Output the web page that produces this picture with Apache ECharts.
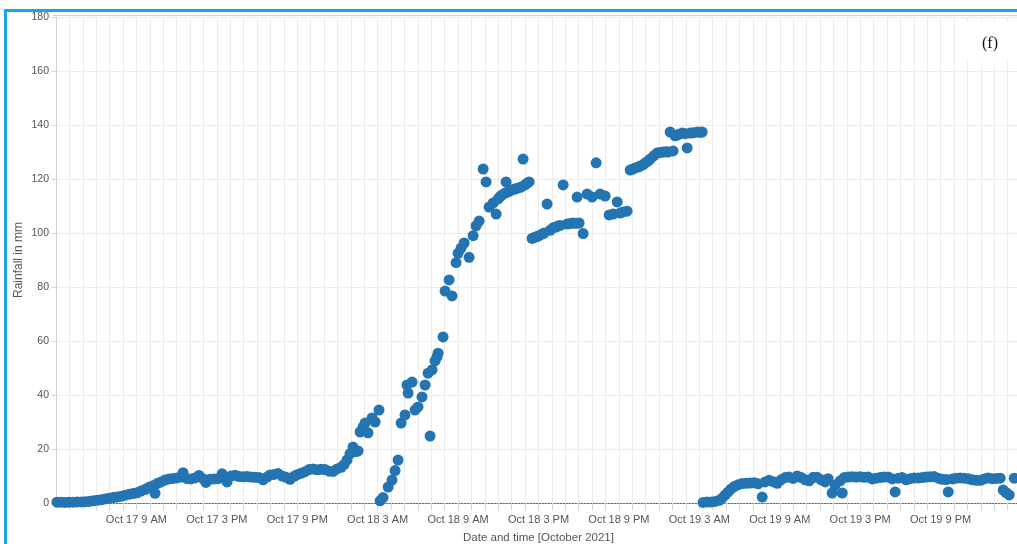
<!DOCTYPE html>
<html>
<head>
<meta charset="utf-8">
<title>Rainfall in mm, 17–19 October 2021</title>
<script src="https://cdn.jsdelivr.net/npm/echarts@6/dist/echarts.min.js"></script>
<style>
  html, body { margin: 0; padding: 0; background: #fff; }
  #frame {
    position: absolute; left: 4px; top: 9px; width: 1100px; height: 600px;
    border: 3px solid #19a5e8; box-sizing: border-box;
  }
  #chart { position: absolute; left: 0; top: 0; width: 1017px; height: 544px; }
</style>
</head>
<body>
<div id="frame"></div>
<div id="chart"></div>
<script>
// Logger readings: hours counted from 17 Oct 2021 00:00, cumulative rainfall in mm
const hours = [
  // run 1 (17 Oct 03:00 → 18 Oct 03:00)
  3.07, 3.37, 3.67, 3.97, 4.27, 4.57, 4.87, 5.16, 5.46, 5.76,
  6.06, 6.36, 6.66, 6.96, 7.25, 7.55, 7.85, 8.15, 8.45, 8.75,
  9.04, 9.34, 9.64, 9.94, 10.24, 10.39, 10.54, 10.84, 11.13, 11.43,
  11.73, 12.03, 12.33, 12.48, 12.78, 13.07, 13.37, 13.67, 13.97, 14.19,
  14.49, 14.79, 15.09, 15.39, 15.54, 15.76, 16.06, 16.36, 16.66, 16.96,
  17.25, 17.55, 17.85, 18.15, 18.45, 18.75, 18.97, 19.27, 19.57, 19.87,
  20.16, 20.46, 20.76, 20.99, 21.28, 21.58, 21.88, 22.18, 22.48, 22.78,
  23.07, 23.37, 23.67, 23.97, 24.27, 24.49, 24.72, 24.94, 25.16, 25.39,
  25.54, 25.69, 25.91, 26.06, 26.28, 26.58, 26.81, 27.10,
  // run 2 (18 Oct 03:00 → 19 Oct 03:00)
  27.18, 27.40, 27.78, 28.07, 28.30, 28.52, 28.75, 29.04, 29.19, 29.27,
  29.57, 29.79, 30.01, 30.31, 30.54, 30.76, 30.91, 31.06, 31.28, 31.43,
  31.51, 31.88, 32.03, 32.33, 32.55, 32.85, 33.00, 33.22, 33.45, 33.82,
  34.12, 34.34, 34.57, 34.87, 35.09, 35.31, 35.61, 35.84, 35.99, 36.13,
  36.28, 36.51, 36.58, 36.73, 36.88, 37.03, 37.25, 37.48, 37.70, 37.85,
  38.00, 38.15, 38.30, 38.52, 38.67, 38.90, 39.04, 39.27, 39.42, 39.64,
  39.87, 40.09, 40.31, 40.46, 40.61, 40.84, 41.13, 41.36, 41.58, 41.81,
  41.88, 42.03, 42.33, 42.63, 43.00, 43.30, 43.60, 43.97, 44.27, 44.57,
  44.87, 45.09, 45.31, 45.61, 45.84, 45.99, 46.21, 46.43, 46.58, 46.81,
  46.96, 47.18, 47.33, 47.60, 47.85, 48.07, 48.30, 48.52, 48.67, 48.82,
  49.04, 49.19, 49.34, 49.49, 49.72, 49.94, 50.09, 50.31, 50.54, 50.84,
  51.06, 51.21,
  // run 3 (19 Oct 03:00 onward)
  51.28, 51.58, 51.88, 52.18, 52.48, 52.70, 52.93, 53.15, 53.37, 53.60,
  53.90, 54.19, 54.49, 54.79, 55.09, 55.39, 55.69, 55.91, 56.21, 56.51,
  56.81, 57.10, 57.40, 57.70, 58.00, 58.30, 58.60, 58.90, 59.19, 59.49,
  59.79, 60.09, 60.39, 60.61, 60.91, 61.13, 61.51, 61.66, 61.81, 62.10,
  62.40, 62.70, 63.00, 63.30, 63.60, 63.90, 64.19, 64.49, 64.79, 65.09,
  65.39, 65.61, 65.84, 66.13, 66.43, 66.73, 67.03, 67.33, 67.63, 67.93,
  68.22, 68.52, 68.82, 69.12, 69.42, 69.57, 69.87, 70.16, 70.46, 70.76,
  71.06, 71.36, 71.66, 71.96, 72.25, 72.55, 72.85, 73.15, 73.45, 73.67,
  73.90, 74.12, 74.49
];

const rainfallMm = [
  // run 1
  0.3, 0.3, 0.2, 0.3, 0.3, 0.4, 0.4, 0.5, 0.6, 0.8,
  1.0, 1.2, 1.5, 1.8, 2.0, 2.2, 2.5, 2.9, 3.2, 3.5,
  3.8, 4.4, 5.0, 5.8, 6.4, 3.6, 7.2, 7.8, 8.5, 8.9,
  9.1, 9.3, 9.6, 11.2, 9.0, 8.9, 9.3, 10.2, 9.0, 7.6,
  8.8, 8.9, 9.0, 10.8, 9.5, 7.8, 10.0, 10.3, 9.8, 9.7,
  9.8, 9.6, 9.5, 9.4, 8.6, 9.6, 10.4, 10.6, 10.9, 10.0,
  9.5, 8.8, 9.9, 10.5, 11.0, 11.6, 12.4, 12.6, 12.3, 12.5,
  12.4, 11.8, 11.7, 12.6, 13.2, 14.2, 16.0, 18.3, 20.7, 19.0,
  19.3, 26.3, 28.2, 29.6, 26.0, 31.5, 30.0, 34.4,
  // run 2
  0.8, 2.0, 5.9, 8.5, 12.0, 15.9, 29.6, 32.6, 43.7, 40.7,
  44.8, 34.4, 35.6, 39.3, 43.7, 48.1, 24.8, 49.3, 52.6, 54.1,
  55.5, 61.5, 78.5, 82.6, 76.7, 89.0, 92.5, 94.4, 96.3, 91.0,
  99.0, 102.6, 104.4, 123.7, 118.9, 109.6, 111.1, 107.0, 112.6, 113.5,
  114.1, 114.8, 118.9, 115.2, 115.6, 116.0, 116.3, 116.7, 117.0, 127.4,
  117.8, 118.5, 118.9, 98.0, 98.3, 98.7, 99.0, 99.6, 100.0, 110.7,
  101.0, 101.9, 102.2, 102.6, 102.8, 117.8, 103.3, 103.5, 103.7, 103.6,
  113.3, 103.7, 99.8, 114.4, 113.3, 126.0, 114.4, 113.7, 106.7, 107.0,
  111.5, 107.4, 107.8, 108.1, 123.3, 123.6, 124.1, 124.4, 124.8, 125.3,
  126.0, 126.6, 127.4, 128.6, 129.6, 129.8, 130.0, 130.1, 130.0, 137.4,
  130.4, 136.0, 136.3, 136.6, 137.0, 136.8, 131.5, 137.0, 137.1, 137.4,
  137.3, 137.4,
  // run 3
  0.2, 0.4, 0.4, 0.6, 1.0, 1.8, 3.0, 4.1, 5.2, 6.1,
  6.8, 7.2, 7.3, 7.4, 7.5, 7.1, 2.2, 7.8, 8.4, 7.9,
  7.3, 8.6, 9.4, 9.6, 9.1, 10.0, 9.4, 8.6, 8.2, 9.5,
  9.5, 8.6, 7.8, 9.0, 3.7, 6.7, 8.2, 3.7, 9.4, 9.6,
  9.7, 9.6, 9.7, 9.5, 9.6, 8.9, 9.2, 9.4, 9.6, 9.6,
  8.9, 4.1, 9.2, 9.4, 8.6, 9.0, 9.3, 9.3, 9.4, 9.6,
  9.7, 9.8, 9.2, 8.8, 8.7, 4.1, 8.9, 9.2, 9.3, 9.2,
  9.0, 8.6, 8.4, 8.4, 8.9, 9.3, 9.0, 9.1, 9.2, 4.8,
  3.8, 3.0, 9.2
];

// Labelled ticks on the time axis (hours from 17 Oct 00:00)
const tickHours = [9, 15, 21, 27, 33, 39, 45, 51, 57, 63, 69];
const tickLabels = [
  'Oct 17 9 AM', 'Oct 17 3 PM', 'Oct 17 9 PM',
  'Oct 18 3 AM', 'Oct 18 9 AM', 'Oct 18 3 PM', 'Oct 18 9 PM',
  'Oct 19 3 AM', 'Oct 19 9 AM', 'Oct 19 3 PM', 'Oct 19 9 PM'
];
const yTicks = [0, 20, 40, 60, 80, 100, 120, 140, 160, 180];

const points = hours.map((h, i) => [h, rainfallMm[i]]);

const chart = echarts.init(document.getElementById('chart'), null, { renderer: 'canvas' });
const textFont = 'Liberation Sans, Arial, sans-serif';

chart.setOption({
  backgroundColor: 'transparent',
  animation: false,
  grid: {
    left: 56, top: 17, width: 965, height: 486,
    containLabel: false, outerBoundsMode: 'none'
  },
  xAxis: [{
    type: 'value',
    min: 3,
    max: 75,
    interval: 1,
    name: 'Date and time [October 2021]',
    nameLocation: 'middle',
    nameGap: 29,
    nameTextStyle: { color: '#555', fontSize: 11.5, fontFamily: textFont },
    axisLine: { show: true, onZero: false, lineStyle: { color: '#666', type: [1.5, 1.5], width: 1 } },
    axisTick: { show: true, length: 7, lineStyle: { color: '#d6d6d6' } },
    axisLabel: {
      margin: 11,
      color: '#555',
      fontSize: 11,
      fontFamily: textFont,
      showMinLabel: false,
      showMaxLabel: false,
      formatter: v => {
        const i = tickHours.indexOf(Math.round(v));
        return i >= 0 ? tickLabels[i] : '';
      }
    },
    splitLine: { show: true, lineStyle: { color: '#ebebeb', width: 1 } }
  }],
  yAxis: [{
    type: 'value',
    min: yTicks[0],
    max: yTicks[yTicks.length - 1],
    interval: 20,
    name: 'Rainfall in mm',
    nameLocation: 'middle',
    nameGap: 31,
    nameMoveOverlap: false,
    nameTextStyle: { color: '#555', fontSize: 12, fontFamily: textFont },
    axisLine: { show: true, lineStyle: { color: '#d4d4d4' } },
    axisTick: { show: true, length: 4, lineStyle: { color: '#d4d4d4' } },
    axisLabel: { margin: 7, color: '#555', fontSize: 10.5, fontFamily: textFont },
    splitLine: { show: true, lineStyle: { color: '#ececec', width: 1 } }
  }],
  graphic: [
    { type: 'line', shape: { x1: 53, y1: 15.5, x2: 1017, y2: 15.5 }, style: { stroke: '#d2d2d2', lineWidth: 1 }, z: 5 },
    { type: 'rect', shape: { x: 958, y: 21, width: 56, height: 41 }, style: { fill: '#fff' }, z: 5 },
    {
      type: 'text', x: 990, y: 44, z: 6,
      style: {
        text: '(f)', fill: '#111', fontSize: 16,
        fontFamily: 'Liberation Serif, Times New Roman, serif',
        align: 'center', verticalAlign: 'middle'
      }
    }
  ],
  series: [{
    type: 'scatter',
    data: points,
    symbol: 'circle',
    symbolSize: 11,
    itemStyle: { color: '#2474b2', opacity: 1 },
    z: 3
  }]
});
</script>
</body>
</html>
